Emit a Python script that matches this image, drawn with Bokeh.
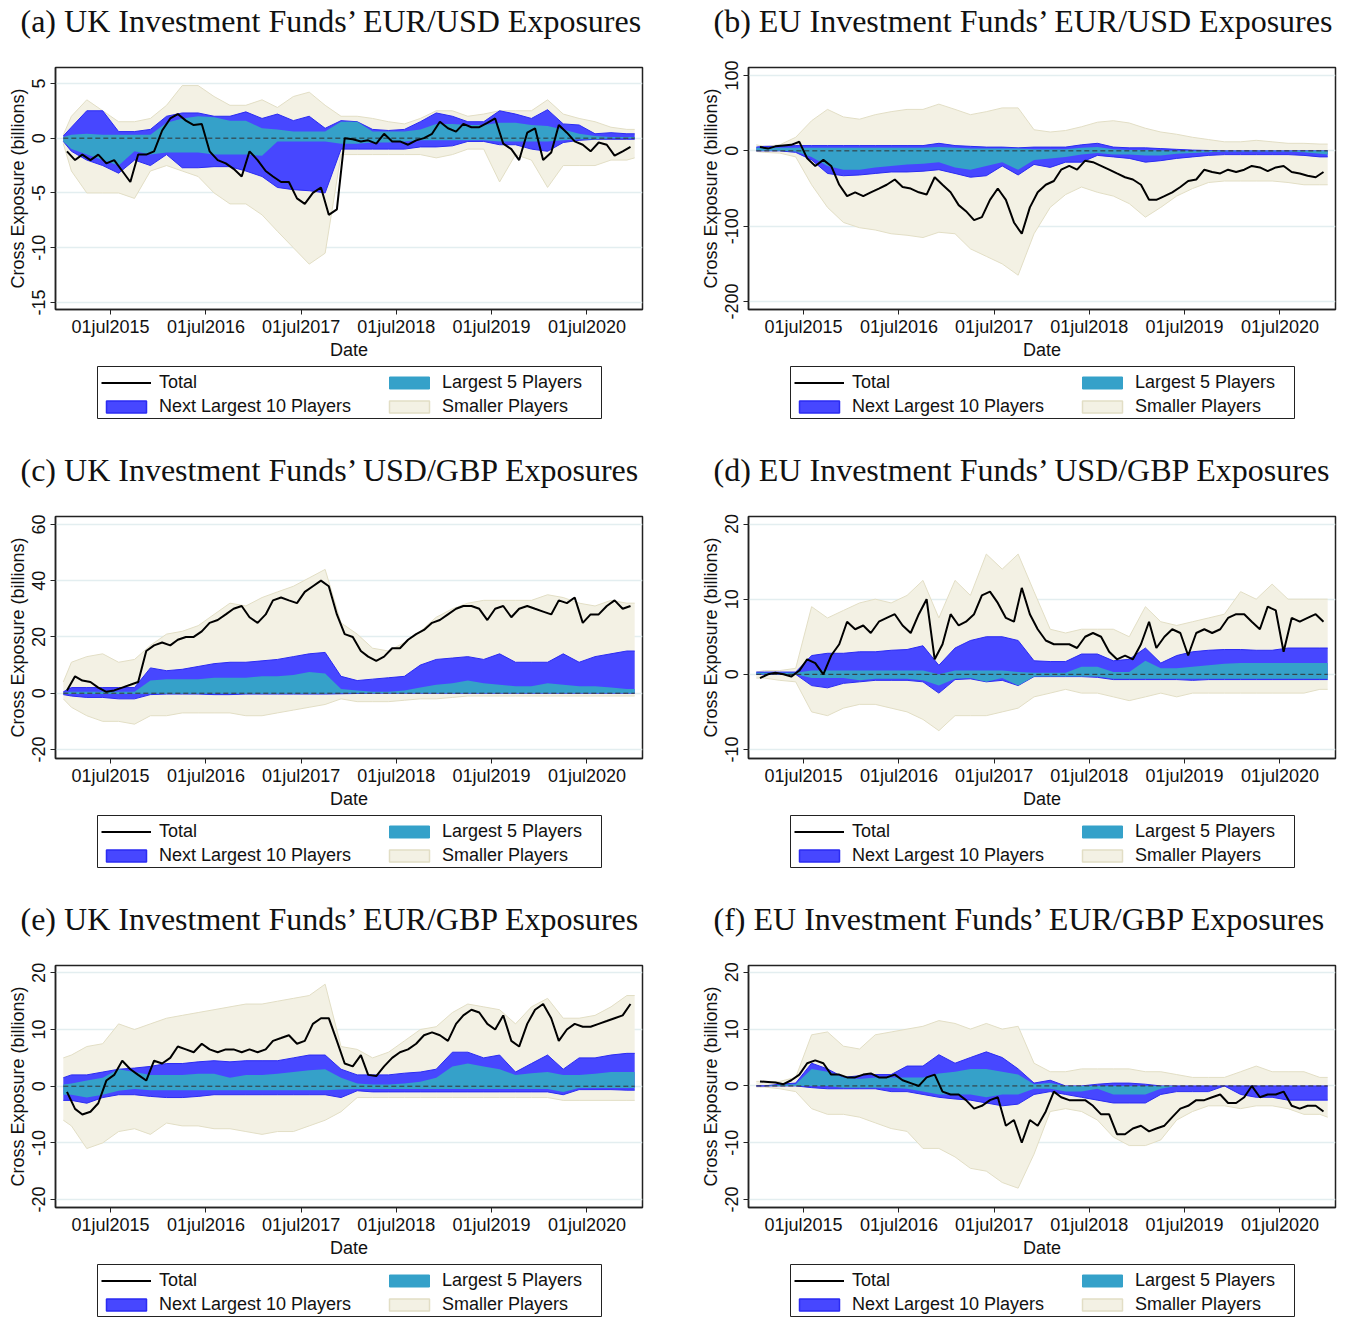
import pandas as pd
from bokeh.plotting import figure
from bokeh.models import Range1d, FixedTicker, Legend, LegendItem, BoxAnnotation
from bokeh.layouts import row, column
from bokeh.embed import file_html
from bokeh.resources import INLINE

# ---------------- dates ----------------
month_dates = pd.date_range("2015-01-01", periods=72, freq="MS") + pd.Timedelta(days=14)
band_dates = pd.DatetimeIndex([pd.Timestamp("2015-01-01")]
                              + list(pd.date_range("2015-02-01", periods=36, freq="2MS"))
                              + [pd.Timestamp("2020-12-31")])
tick_dates = ["2015-07-01", "2016-07-01", "2017-07-01", "2018-07-01", "2019-07-01", "2020-07-01"]
tick_labels = ["01jul2015", "01jul2016", "01jul2017", "01jul2018", "01jul2019", "01jul2020"]

titles = ["(a) UK Investment Funds\u2019 EUR/USD Exposures",
          "(b) EU Investment Funds\u2019 EUR/USD Exposures",
          "(c) UK Investment Funds\u2019 USD/GBP Exposures",
          "(d) EU Investment Funds\u2019 USD/GBP Exposures",
          "(e) UK Investment Funds\u2019 EUR/GBP Exposures",
          "(f) EU Investment Funds\u2019 EUR/GBP Exposures"]
legend_labels = ["Total", "Next Largest 10 Players", "Largest 5 Players", "Smaller Players"]

# ---------------- (a) UK EUR/USD ----------------
a_total = [-1.2, -2.0, -1.5, -2.0, -1.5, -2.3, -2.0, -3.0, -4.0, -1.5, -1.5, -1.2,
           0.7, 1.8, 2.2, 1.6, 1.2, 1.3, -1.2, -2.0, -2.3, -2.8, -3.5, -1.2,
           -2.0, -3.0, -3.5, -4.0, -4.0, -5.5, -6.0, -5.0, -4.5, -7.0, -6.5, 0.0,
           -0.1, -0.3, -0.2, -0.5, 0.4, -0.3, -0.3, -0.6, -0.2, 0.0, 0.4, 1.5,
           0.9, 0.6, 1.3, 1.0, 1.0, 1.4, 1.8, -0.5, -1.0, -2.0, 0.5, 0.9,
           -2.0, -1.3, 1.2, 0.5, -0.3, -0.6, -1.2, -0.4, -0.6, -1.6, -1.2, -0.8]
a_sm_hi = [0.3, 2.0, 3.5, 2.5, 1.5, 1.5, 1.8, 3.0, 4.8, 4.8, 3.8, 3.0, 3.0, 3.5, 2.8, 3.8, 4.2, 3.0, 2.0,
           2.0, 1.8, 1.5, 1.3, 1.8, 2.5, 2.5, 2.0, 2.2, 2.5, 2.5, 2.5, 3.5, 2.2, 1.8, 1.5, 1.0, 0.8, 0.8]
a_n10_hi = [0.2, 1.0, 2.5, 2.5, 0.6, 0.6, 0.8, 2.0, 2.3, 2.3, 2.0, 2.0, 2.4, 1.8, 2.2, 1.6, 2.0, 0.9, 1.6,
            1.5, 0.8, 0.7, 0.8, 1.5, 2.3, 2.0, 1.5, 1.5, 2.5, 2.2, 1.8, 2.6, 1.3, 1.2, 0.4, 0.5, 0.4, 0.4]
a_l5_hi = [0.1, 0.3, 0.4, 0.3, 0.3, 0.3, 0.3, 1.4, 1.8, 2.0, 1.9, 1.6, 1.6, 0.9, 0.8, 0.6, 0.6, 0.6, 1.5,
           1.5, 0.6, 0.6, 0.6, 0.8, 1.3, 1.3, 1.2, 1.2, 1.4, 1.4, 1.2, 1.1, 0.8, 0.4, 0.2, 0.1, 0.1, 0.1]
a_l5_lo = [-0.3, -1.0, -1.5, -2.0, -2.5, -1.2, -1.5, -1.3, -1.3, -1.3, -1.5, -1.5, -1.5, -1.6, -0.3, -0.3, -0.3, -0.3, -0.5,
           -0.5, -0.4, -0.4, -0.3, -0.2, -0.2, -0.2, -0.2, -0.2, -0.3, -0.3, -0.3, -0.3, -0.2, -0.1, -0.1, 0.0, 0.0, 0.0]
a_n10_lo = [-0.3, -1.2, -2.0, -2.5, -3.2, -2.0, -2.5, -1.5, -2.7, -2.7, -2.6, -2.6, -3.0, -3.5, -4.5, -4.7, -4.8, -5.0, -1.0,
            -1.0, -1.0, -1.0, -1.0, -0.8, -0.8, -0.7, -0.3, -0.3, -0.6, -0.6, -1.0, -1.2, -0.4, -0.2, -0.1, -0.1, -0.1, -0.1]
a_sm_lo = [-0.5, -3.0, -5.0, -5.0, -5.0, -5.5, -3.0, -2.5, -3.0, -3.5, -5.0, -6.0, -6.0, -7.0, -8.5, -10.0, -11.5, -10.5, -1.5,
           -1.5, -1.5, -1.5, -1.5, -1.5, -1.8, -1.5, -1.0, -1.0, -4.0, -1.5, -2.0, -4.5, -2.5, -2.5, -2.5, -2.0, -2.0, -1.8]

# ---------------- (b) EU EUR/USD ----------------
b_total = [5, 3, 6, 7, 8, 12, -10, -20, -12, -20, -45, -60,
           -55, -60, -55, -50, -45, -38, -48, -50, -55, -58, -35, -45,
           -55, -72, -80, -92, -88, -65, -50, -65, -95, -110, -75, -55,
           -45, -40, -25, -20, -25, -13, -15, -20, -25, -30, -35, -38,
           -45, -65, -65, -60, -55, -48, -40, -38, -25, -28, -30, -25,
           -28, -25, -20, -22, -27, -22, -20, -28, -30, -33, -35, -28]
b_sm_hi = [8, 6, 8, 18, 40, 55, 45, 42, 48, 52, 55, 55, 62, 55, 48, 52, 57, 57, 28,
           25, 27, 32, 38, 40, 37, 30, 25, 22, 18, 15, 12, 12, 14, 12, 10, 10, 9, 9]
b_n10_hi = [5, 6, 6, 7, 7, 7, 7, 7, 7, 7, 7, 7, 10, 7, 6, 5, 5, 4, 5,
            5, 5, 8, 10, 5, 4, 4, 3, 2, 1, 0.5, 0, 0, 0, 0, 0, 0, 0, 0]
b_l5_hi = [4, 4, 4, 4, 4, 4, 4, 4, 4, 4, 4, 4, 5, 4, 3, 3, 3, 3, 2,
           2, 2, 4, 5, 2, 1, 1, 0.5, 0, 0, 0, 0, 0, 0, 0, 0, 0, 0, 0]
b_l5_lo = [0, 0, 0, -1, -8, -20, -25, -25, -22, -20, -18, -17, -15, -22, -25, -20, -15, -25, -12,
           -10, -8, -5, -3, -5, -5, -6, -6, -4, -3, -2, -1, -1, -1, -1, -1, -2, -4, -5]
b_n10_lo = [0, 0, 0, -2, -12, -30, -33, -32, -30, -28, -28, -27, -25, -30, -35, -33, -20, -32, -18,
            -22, -15, -15, -6, -8, -10, -15, -13, -10, -8, -6, -5, -5, -5, -5, -5, -6, -8, -8]
b_sm_lo = [-1, -2, -3, -8, -45, -75, -95, -102, -105, -110, -112, -115, -108, -110, -130, -140, -150, -165, -110,
           -75, -58, -48, -55, -60, -70, -88, -75, -60, -50, -42, -40, -40, -40, -40, -42, -45, -45, -45]

# ---------------- (c) UK USD/GBP ----------------
c_total = [1, 6, 4.5, 4, 2, 0.5, 1, 2, 3, 4, 15, 17,
           18, 17, 19, 20, 20, 22, 25, 26, 28, 30, 31, 27,
           25, 28, 33, 34, 33, 32, 36, 38, 40, 38, 28, 21,
           20, 15, 13, 11.5, 13, 16, 16, 19, 21, 22.5, 25, 26,
           28, 30, 31, 31, 30, 26, 30, 31, 27, 30, 31, 30,
           29, 28, 33, 32, 34, 25, 28, 28, 31, 33, 30, 31]
c_sm_hi = [4, 11, 13, 14, 11, 12, 17, 21, 22, 24, 28, 32, 31, 34, 36, 38, 41, 44, 25,
           21, 16, 15, 18, 22, 27, 30, 32, 33, 33, 33, 33, 35, 34, 32, 31, 33, 32, 32]
c_n10_hi = [0.5, 2, 2, 2, 2, 2, 9, 8, 8.5, 9.5, 10.5, 11, 11, 11.5, 12, 13, 14, 14.5, 6,
            4.5, 5, 5.5, 6, 10, 12, 12.5, 13, 12, 14, 11, 11, 11, 14, 11, 13, 14, 15, 15]
c_l5_hi = [0.2, 0.5, 0.5, 0.5, 0.5, 0.5, 4.5, 5, 5, 5, 5.5, 5.5, 5.5, 6, 6, 6.5, 7.5, 7, 1.5,
           1, 0.5, 0.5, 1, 2, 3, 3.5, 4.5, 3.5, 3, 2.5, 2.5, 3.5, 3, 2.5, 2.5, 2, 1.5, 1.5]
c_l5_lo = [-0.2, -0.3, -0.3, -0.3, -0.3, -0.3, -0.2, -0.2, -0.2, -0.2, -0.2, -0.2, -0.2, -0.2, -0.2, -0.2, -0.2, -0.2, 0,
           0, 0, 0, 0, 0, 0, 0, 0, 0, 0, 0, 0, 0, 0, 0, 0, 0, 0, 0]
c_n10_lo = [-0.5, -1, -1.5, -1.5, -2, -2, -0.5, -0.3, -0.3, -0.3, -0.5, -0.5, -0.3, -0.3, -0.3, -0.3, -0.3, -0.3, -0.2,
            -0.1, 0, 0, 0, 0, 0, 0, 0, 0, 0, 0, 0, 0, 0, 0, 0, 0, 0, 0]
c_sm_lo = [-2, -5, -8, -10, -10, -11, -8, -8, -7, -7, -7, -7, -8, -8, -7, -6, -5, -4, -2,
           -3, -3, -3, -2.5, -2, -2, -1.5, -1, -1, -1, -1, -1, -1, -1, -1, -1, -1, -1, -1]

# ---------------- (d) EU USD/GBP ----------------
d_total = [-0.5, 0, 0.2, 0, -0.3, 0.5, 2, 1.5, 0, 2.5, 4, 7,
           6, 6.5, 5.5, 7, 7.5, 8, 6.5, 5.5, 8, 10, 2, 4,
           8, 6.5, 7, 8, 10.5, 11, 9.5, 7.5, 7, 11.5, 8, 6,
           4.5, 4, 4, 4, 3.5, 5, 5.5, 5, 3, 2, 2.5, 2,
           4, 7, 3.5, 5, 6, 5.5, 2.5, 5.5, 6, 5.5, 6, 7.5,
           8, 8, 7, 6, 9, 8.5, 3, 7.5, 7, 7.5, 8, 7]
d_sm_hi = [0.3, 0.5, 0.5, 0.8, 9, 7.5, 8.5, 9.5, 10, 9.5, 10.5, 12.5, 7.5, 12.5, 10.5, 16, 14, 16, 11,
           6, 5.5, 6, 6, 6, 5, 9, 7, 6.5, 7, 7.5, 8, 11, 10, 12, 10, 10, 10, 10]
d_n10_hi = [0.3, 0.3, 0.3, 0.3, 2.5, 2.8, 2.8, 3, 3, 3.2, 3.3, 3.8, 1.2, 3.5, 4.5, 5, 5, 4.5, 1.8,
            1.7, 1.7, 2.7, 2.7, 1.8, 2, 3.5, 1.5, 2.5, 3, 3.2, 3.3, 3.3, 3.2, 3.2, 3.5, 3.5, 3.5, 3.5]
d_l5_hi = [0.2, 0.2, 0.2, 0.2, 0.5, 0.5, 0.5, 0.5, 0.5, 0.5, 0.5, 0.5, 0, 0.5, 0.5, 0.5, 0.5, 0.3, 0.2,
           0.2, 0.2, 1.0, 1.0, 0.3, 0.3, 1.8, 0.8, 0.8, 1.0, 1.2, 1.4, 1.5, 1.5, 1.5, 1.5, 1.5, 1.5, 1.5]
d_l5_lo = [0, 0, 0, 0, -0.5, -0.5, -0.5, -0.8, -0.6, -0.6, -0.6, -0.8, -1.5, -0.6, -0.5, -1.0, -0.5, -1.5, -0.3,
           -0.3, -0.3, -0.3, -0.3, -0.6, -0.6, -0.6, -0.6, -0.6, -0.6, -0.6, -0.6, -0.6, -0.6, -0.6, -0.6, -0.6, -0.6, -0.6]
d_n10_lo = [0, 0, 0, 0, -1.5, -1.8, -1.2, -1.0, -0.8, -0.8, -0.8, -1.0, -2.5, -0.7, -0.6, -1.0, -0.8, -1.5, -0.3,
            -0.3, -0.3, -0.3, -0.4, -0.7, -0.7, -0.7, -0.7, -0.7, -0.8, -0.7, -0.7, -0.7, -0.7, -0.7, -0.7, -0.7, -0.7, -0.7]
d_sm_lo = [-0.5, -0.5, -0.8, -1, -5, -5.5, -4.5, -4, -4, -4.5, -5, -6, -7.5, -5.5, -5.5, -5.5, -5, -4.5, -3,
           -2.5, -2, -2.5, -2.5, -3, -3.5, -3, -2.5, -3, -2.5, -2.5, -2.5, -2.5, -2.5, -2.5, -2.5, -2.5, -2, -2]

# ---------------- (e) UK EUR/GBP ----------------
e_total = [-1, -4, -5, -4.5, -3, 1, 2, 4.5, 3, 2, 1, 4.5,
           4, 5, 7, 6.5, 6, 7.5, 6.5, 6, 6.5, 6.5, 6, 6.5,
           6, 6.5, 8, 8.5, 9, 7.5, 8, 11, 12, 12, 8, 4,
           3.5, 5.5, 2, 1.8, 3.5, 5, 6, 6.5, 7.5, 9, 9.5, 9,
           8, 11, 12.5, 13.5, 13, 11, 10, 12.5, 8, 7, 11, 13.5,
           14.5, 12, 8, 10, 11, 10.5, 10.5, 11, 11.5, 12, 12.5, 14.5]
e_sm_hi = [5, 5.5, 7, 7.5, 11, 10, 11, 12, 12.5, 13, 13.5, 14, 14.5, 14.5, 15, 15.5, 16, 18, 7,
           6.5, 5, 6, 8, 10, 10.5, 13, 14.5, 14, 13.5, 11, 14, 15.5, 12, 12, 12.5, 14, 16, 16]
e_n10_hi = [1.5, 2, 2, 2.5, 3, 3.2, 3.5, 4, 4, 4.3, 4.5, 4.3, 4.5, 4.5, 4.5, 5, 5.5, 5.5, 3,
            2, 2, 2, 2.3, 2.5, 3, 6, 6, 5, 5.5, 2.5, 4, 5.5, 3, 5, 5, 5.5, 5.8, 5.8]
e_l5_hi = [0.3, 0.5, 1, 1.5, 3, 2.5, 2, 2, 2, 2.2, 2.2, 1.5, 2, 2, 2.2, 2.5, 2.8, 3, 1.5,
           0.5, 0.3, 0.3, 0.5, 0.8, 1.5, 3.5, 4, 3.5, 3, 2, 2.3, 2.5, 2, 2, 2.2, 2.5, 2.5, 2.5]
e_l5_lo = [-1.5, -1.5, -2, -1.5, -0.8, -0.5, -0.7, -0.7, -0.7, -0.7, -0.7, -0.7, -0.7, -0.7, -0.7, -0.7, -0.7, -0.7, -0.6,
           -0.5, -0.5, -0.5, -0.5, -0.5, -0.5, -0.5, -0.5, -0.5, -0.5, -0.5, -0.5, -0.5, -1, -0.3, -0.3, -0.3, -0.3, -0.3]
e_n10_lo = [-2.5, -2.5, -3, -2, -1.5, -1.5, -1.8, -2, -2, -1.8, -1.5, -1.5, -1.5, -1.5, -1.5, -1.5, -1.5, -1.5, -2,
            -0.8, -1, -1, -1, -1, -1, -1, -1, -1, -1, -1, -1, -1, -1.5, -0.6, -0.6, -0.6, -0.7, -0.7]
e_sm_lo = [-6, -7, -11, -10, -8, -7.5, -8.5, -6.5, -7, -7, -7.5, -7.5, -8, -8.5, -8, -8, -7, -6, -4.5,
           -2, -2, -2, -2, -2, -2, -2, -2, -2, -2, -2, -2, -2, -2.5, -2.5, -2.5, -2.5, -2.5, -2.5]

# ---------------- (f) EU EUR/GBP ----------------
f_total = [0.8, 0.7, 0.6, 0.3, 1, 2, 4, 4.5, 4, 2, 2, 1.5,
           1.5, 2, 2.2, 1.5, 1.5, 2, 1, 0.5, 0, 1.5, 2, -1,
           -1.5, -1.5, -2.5, -4, -3.5, -2.5, -2, -7, -6, -10, -6, -7,
           -4.5, -1, -2, -2.5, -2.5, -2.5, -3.5, -5, -5, -8.5, -8.5, -7.5,
           -7, -8, -7.5, -7, -5.5, -4, -3.5, -2.5, -2.5, -2, -1.5, -3,
           -3, -2, 0, -2, -1.5, -1.5, -1, -3.5, -4, -3.5, -3.5, -4.5]
f_sm_hi = [0.8, 0.8, 0.8, 1.5, 9, 9.5, 7, 6.5, 9, 9.5, 10, 10.5, 11.5, 11, 10, 11, 10, 10.5, 4,
           2.5, 2.5, 3, 3, 3, 3, 2.5, 2.5, 2, 1.5, 1.5, 1.5, 2.5, 3.5, 2.5, 2.5, 2.5, 1.5, 1.5]
f_n10_hi = [0, 0, 0.3, 0.5, 4, 3, 1.5, 1.8, 2, 2, 3.5, 3.5, 5.5, 4, 5, 6, 5, 3, 0.5,
            1, 0, 0, 0.3, 0.5, 0.5, 0.3, 0, 0, 0, 0, 0, 0, 0, 0, 0, 0, 0, 0]
f_l5_hi = [0, 0, 0.2, 0.3, 3, 2.5, 1.5, 1.2, 1.5, 1.5, 1.5, 1.5, 2.2, 2.5, 3, 3, 2.5, 2, 0.3,
           0.5, 0, 0, 0, 0, 0, 0, 0, 0, 0, 0, 0, 0, 0, 0, 0, 0, 0, 0]
f_l5_lo = [0, 0, 0, 0, 0, 0, -0.3, -0.3, -0.3, -0.3, -0.5, -1, -1.5, -1.5, -1.5, -2, -1.5, -1.5, -0.5,
           -0.5, -1, -1, -0.5, -1.5, -1.5, -1.5, -0.5, 0, 0, 0, 0, 0, 0, 0, 0, 0, 0, 0]
f_n10_lo = [0, 0, 0, 0, -0.3, -0.5, -0.5, -0.5, -0.5, -1, -1, -1.5, -2, -2.3, -2.5, -3, -3.5, -3.2, -1.5,
            -1, -1.5, -2, -2.5, -3, -3, -3, -1.5, -1, -1, -1, 0, -1.5, -2, -2, -2.5, -2.5, -2.5, -2.5]
f_sm_lo = [-0.2, -0.2, -0.5, -1, -4, -5, -5, -5.5, -6.5, -7.5, -8, -11, -11, -12.5, -14.5, -15, -17, -18, -12,
           -4.5, -4, -4.5, -6, -9, -10.5, -10.5, -9.5, -6, -4.5, -3.5, -3.5, -4, -3.5, -3.5, -4, -5, -5, -5.5]

# axis limits / ticks
y_limits = [(-15.64, 6.45), (-210.5, 110.6), (-23.2, 62.8), (-11.2, 21.0), (-21.4, 21.3), (-21.4, 21.2)]
y_ticks = [[-15, -10, -5, 0, 5], [-200, -100, 0, 100], [-20, 0, 20, 40, 60],
           [-10, 0, 10, 20], [-20, -10, 0, 10, 20], [-20, -10, 0, 10, 20]]

# colours
BEIGE, BEIGE_EDGE = "#F3F1E4", "#E2DEC5"
BLUE, BLUE_EDGE = "#4747FF", "#2B2BF2"
TEAL = "#35A1C9"
SANS = "Liberation Sans"

TITLE_H = 42
LEG_H = 87
LEG_H_LAST = 72


def ms(d):
    return int(pd.Timestamp(d).value // 10**6)


def blank(width, height, bl, br):
    f = figure(width=width, height=height, x_range=Range1d(0, 1), y_range=Range1d(0, 1),
               x_axis_location=None, y_axis_location=None,
               output_backend="svg", toolbar_location=None,
               min_border_left=bl, min_border_right=br, min_border_top=0, min_border_bottom=0,
               background_fill_color="white", border_fill_color="white")
    f.grid.visible = False
    f.outline_line_color = None
    return f


def make_panel(idx, total, sm_hi, sm_lo, n10_hi, n10_lo, l5_hi, l5_lo):
    left_col = idx % 2 == 0
    last_row = idx >= 4
    width = 693 if left_col else 655
    bl = 55
    br = 51 if left_col else 13

    # ---- title strip: the title sits in the strip's own "above" panel (not clipped) ----
    tf = blank(width, TITLE_H, bl, br)
    tf.title.text = titles[idx]
    tf.title.align = "left"
    tf.title.offset = -35
    tf.title.standoff = 0
    tf.title.vertical_align = "bottom"
    tf.title.text_font = "Liberation Serif"
    tf.title.text_font_size = "32px"
    tf.title.text_font_style = "normal"
    tf.title.text_color = "#111111"

    # ---- main plot ----
    p = figure(width=width, height=449 - TITLE_H - LEG_H,
               x_axis_type="datetime",
               x_range=Range1d(pd.Timestamp("2014-12-02"), pd.Timestamp("2021-01-30")),
               y_range=Range1d(*y_limits[idx]),
               output_backend="svg", toolbar_location=None,
               min_border_left=bl, min_border_right=br,
               min_border_top=67 - TITLE_H, min_border_bottom=52,
               background_fill_color="white", border_fill_color="white")

    p.varea(x=band_dates, y1=sm_lo, y2=sm_hi, fill_color=BEIGE)
    p.line(band_dates, sm_hi, line_color=BEIGE_EDGE, line_width=1)
    p.line(band_dates, sm_lo, line_color=BEIGE_EDGE, line_width=1)
    p.varea(x=band_dates, y1=n10_lo, y2=n10_hi, fill_color=BLUE)
    p.line(band_dates, n10_hi, line_color=BLUE_EDGE, line_width=1)
    p.line(band_dates, n10_lo, line_color=BLUE_EDGE, line_width=1)
    p.varea(x=band_dates, y1=l5_lo, y2=l5_hi, fill_color=TEAL)
    p.line(band_dates, [0] * len(band_dates), line_color="#333333", line_width=1, line_dash="5 3")
    p.line(month_dates, total, line_color="black", line_width=2)

    p.xaxis.ticker = FixedTicker(ticks=[ms(t) for t in tick_dates])
    p.xaxis.major_label_overrides = {ms(t): lab for t, lab in zip(tick_dates, tick_labels)}
    p.xaxis.axis_label = "Date"
    p.yaxis.ticker = FixedTicker(ticks=y_ticks[idx])
    p.yaxis.major_label_overrides = {v: str(v) for v in y_ticks[idx]}
    p.yaxis.axis_label = "Cross Exposure (billions)"
    p.yaxis.major_label_orientation = "vertical"
    for ax in (p.xaxis[0], p.yaxis[0]):
        ax.major_label_text_font = SANS
        ax.major_label_text_font_size = "18px"
        ax.major_label_text_color = "#111111"
        ax.axis_label_text_font = SANS
        ax.axis_label_text_font_size = "18px"
        ax.axis_label_text_font_style = "normal"
        ax.axis_label_text_color = "#111111"
        ax.axis_line_color = "#222222"
        ax.axis_line_width = 1.5
        ax.major_tick_line_color = "#222222"
        ax.major_tick_out = 5
        ax.major_tick_in = 0
        ax.minor_tick_line_color = None
    p.xaxis.major_label_standoff = 2
    p.xaxis.axis_label_standoff = 0
    p.yaxis.major_label_standoff = 5
    p.yaxis.axis_label_standoff = 2
    p.xgrid.grid_line_color = None
    p.ygrid.grid_line_color = "#E3EEF0"
    p.ygrid.grid_line_width = 1.5
    p.outline_line_color = "#222222"
    p.outline_line_width = 1.5

    # ---- legend strip (aligned with the plot frame) ----
    lh = LEG_H_LAST if last_row else LEG_H
    lf = blank(width, lh, bl, br)
    # invisible proxies (outside the 0..1 ranges) that provide the legend swatches
    r_total = lf.line(x=[2, 3], y=[2, 2], line_color="black", line_width=2)
    r_blue = lf.quad(left=[2], right=[3], bottom=[2], top=[3], fill_color=BLUE, line_color=BLUE_EDGE, line_width=1.5)
    r_teal = lf.quad(left=[2], right=[3], bottom=[2], top=[3], fill_color=TEAL, line_color=TEAL, line_width=1)
    r_beige = lf.quad(left=[2], right=[3], bottom=[2], top=[3], fill_color=BEIGE, line_color=BEIGE_EDGE, line_width=1.5)
    legend = Legend(items=[LegendItem(label=legend_labels[0], renderers=[r_total]),
                           LegendItem(label=legend_labels[1], renderers=[r_blue]),
                           LegendItem(label=legend_labels[2], renderers=[r_teal]),
                           LegendItem(label=legend_labels[3], renderers=[r_beige])],
                    orientation="vertical", ncols=2, location=(46, lh - 54.5),
                    label_text_font=SANS, label_text_font_size="18px", label_text_color="#111111",
                    glyph_width=50, glyph_height=15, label_standoff=8, spacing=3, label_width=222,
                    padding=2, margin=0, border_line_color=None,
                    background_fill_alpha=0.0)
    lf.add_layout(legend, "center")
    lf.add_layout(BoxAnnotation(left=42, right=546, top=lh - 4, bottom=lh - 56,
                                left_units="screen", right_units="screen",
                                top_units="screen", bottom_units="screen",
                                fill_color=None, fill_alpha=0.0,
                                line_color="#222222", line_width=1, line_alpha=1.0))
    return column(tf, p, lf)


panels = [
    make_panel(0, a_total, a_sm_hi, a_sm_lo, a_n10_hi, a_n10_lo, a_l5_hi, a_l5_lo),
    make_panel(1, b_total, b_sm_hi, b_sm_lo, b_n10_hi, b_n10_lo, b_l5_hi, b_l5_lo),
    make_panel(2, c_total, c_sm_hi, c_sm_lo, c_n10_hi, c_n10_lo, c_l5_hi, c_l5_lo),
    make_panel(3, d_total, d_sm_hi, d_sm_lo, d_n10_hi, d_n10_lo, d_l5_hi, d_l5_lo),
    make_panel(4, e_total, e_sm_hi, e_sm_lo, e_n10_hi, e_n10_lo, e_l5_hi, e_l5_lo),
    make_panel(5, f_total, f_sm_hi, f_sm_lo, f_n10_hi, f_n10_lo, f_l5_hi, f_l5_lo),
]

layout = column(row(panels[0], panels[1]), row(panels[2], panels[3]), row(panels[4], panels[5]))
open("out.html", "w").write(file_html(layout, INLINE))
